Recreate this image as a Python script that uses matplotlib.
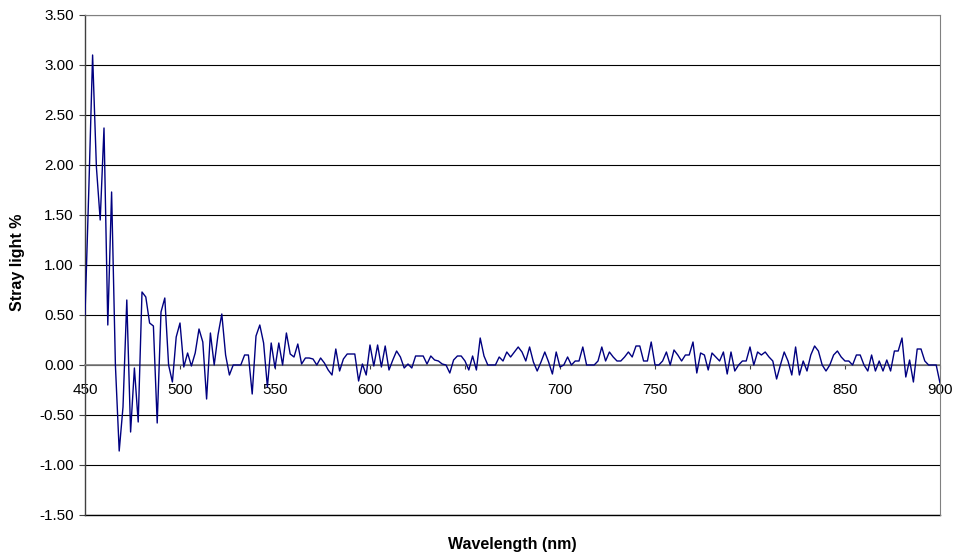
import matplotlib
matplotlib.use("Agg")
import matplotlib.pyplot as plt
from matplotlib.ticker import MultipleLocator, FormatStrFormatter

plt.rcParams['font.family'] = ['Liberation Sans', 'DejaVu Sans']

# Wavelength grid (nm), 2 nm steps from 450 to 900
wavelength = list(range(450, 902, 2))

# Stray light (%) per wavelength, grouped by spectral region
stray_450_500 = [0.50, 1.75, 3.10, 1.98, 1.45, 2.37, 0.40, 1.73, 0.00, -0.86,
                 -0.42, 0.65, -0.67, -0.03, -0.57, 0.73, 0.68, 0.42, 0.39, -0.58,
                 0.53, 0.67, 0.00, -0.17, 0.28, 0.42]
stray_502_578 = [-0.02, 0.12, -0.01, 0.12, 0.36, 0.23, -0.34, 0.32, 0.00, 0.30,
                 0.51, 0.10, -0.10, 0.00, 0.00, 0.00, 0.10, 0.10, -0.29, 0.29,
                 0.40, 0.22, -0.22, 0.22, -0.03, 0.22, 0.00, 0.32, 0.11, 0.08,
                 0.21, 0.01, 0.07, 0.07, 0.06, 0.00, 0.07, 0.02, -0.05]
stray_580_654 = [-0.10, 0.16, -0.06, 0.06, 0.11, 0.11, 0.11, -0.16, 0.01, -0.10,
                 0.20, -0.01, 0.20, -0.02, 0.19, -0.05, 0.05, 0.14, 0.08, -0.03,
                 0.01, -0.03, 0.09, 0.09, 0.09, 0.01, 0.09, 0.05, 0.04, 0.01,
                 0.00, -0.08, 0.05, 0.09, 0.09, 0.04, -0.05, 0.09]
stray_656_730 = [-0.05, 0.27, 0.09, 0.00, 0.00, 0.00, 0.08, 0.04, 0.13, 0.08,
                 0.13, 0.18, 0.13, 0.04, 0.18, 0.03, -0.06, 0.03, 0.13, 0.03,
                 -0.09, 0.13, -0.02, 0.00, 0.08, 0.00, 0.04, 0.04, 0.18, 0.00,
                 0.00, 0.00, 0.04, 0.18, 0.04, 0.13, 0.08, 0.04]
stray_732_808 = [0.04, 0.08, 0.13, 0.08, 0.19, 0.19, 0.04, 0.04, 0.23, 0.00,
                 0.00, 0.04, 0.13, 0.00, 0.15, 0.10, 0.04, 0.10, 0.10, 0.23,
                 -0.08, 0.12, 0.10, -0.05, 0.12, 0.08, 0.04, 0.13, -0.09, 0.13,
                 -0.06, 0.00, 0.04, 0.04, 0.18, 0.00, 0.13, 0.10, 0.13]
stray_810_900 = [0.08, 0.04, -0.14, 0.00, 0.13, 0.04, -0.10, 0.18, -0.10, 0.04,
                 -0.06, 0.10, 0.19, 0.14, 0.00, -0.06, 0.00, 0.10, 0.14, 0.08,
                 0.04, 0.04, 0.00, 0.10, 0.10, 0.00, -0.06, 0.10, -0.06, 0.04,
                 -0.06, 0.05, -0.06, 0.14, 0.14, 0.27, -0.12, 0.05, -0.17, 0.16,
                 0.16, 0.04, 0.00, 0.00, 0.00, -0.18]

stray_light = (stray_450_500 + stray_502_578 + stray_580_654 +
               stray_656_730 + stray_732_808 + stray_810_900)

x_ticks = [450, 500, 550, 600, 650, 700, 750, 800, 850, 900]

fig = plt.figure(figsize=(9.54, 5.55), dpi=100)
ax = fig.add_axes([85 / 954, 1 - 515 / 555, 855 / 954, 500 / 555])

ax.plot(wavelength, stray_light, color='#000080', lw=1.0, zorder=3)

ax.set_xlim(450, 900)
ax.set_ylim(-1.5, 3.5)
ax.yaxis.set_major_locator(MultipleLocator(0.5))
ax.yaxis.set_major_formatter(FormatStrFormatter('%.2f'))
ax.set_xticks(x_ticks)

ax.yaxis.grid(True, color='black', lw=0.8)
ax.set_axisbelow(True)
# lower edge of the plot area
ax.axhline(-1.5, color='black', lw=1.0, clip_on=False, zorder=1)

# Category axis crosses at zero
ax.spines['bottom'].set_position(('data', 0))
ax.spines['bottom'].set_color('#808080')
ax.spines['bottom'].set_linewidth(1.2)
ax.spines['left'].set_color('#404040')
ax.spines['left'].set_linewidth(1.0)
ax.spines['top'].set_color('#808080')
ax.spines['right'].set_color('#808080')

ax.tick_params(axis='y', direction='out', length=4, width=0.8,
               color='#404040', labelsize=11, pad=4)
ax.tick_params(axis='x', direction='out', length=3, width=0.8,
               color='#404040', labelsize=11, pad=10)

fig.text(18 / 954, 1 - 262 / 555, 'Stray light %', rotation=90,
         ha='center', va='center', fontsize=11.5, fontweight='bold')
fig.text(512 / 954, 1 - 545 / 555, 'Wavelength (nm)',
         ha='center', va='center', fontsize=11.5, fontweight='bold')

fig.savefig('out.png', dpi=100)
